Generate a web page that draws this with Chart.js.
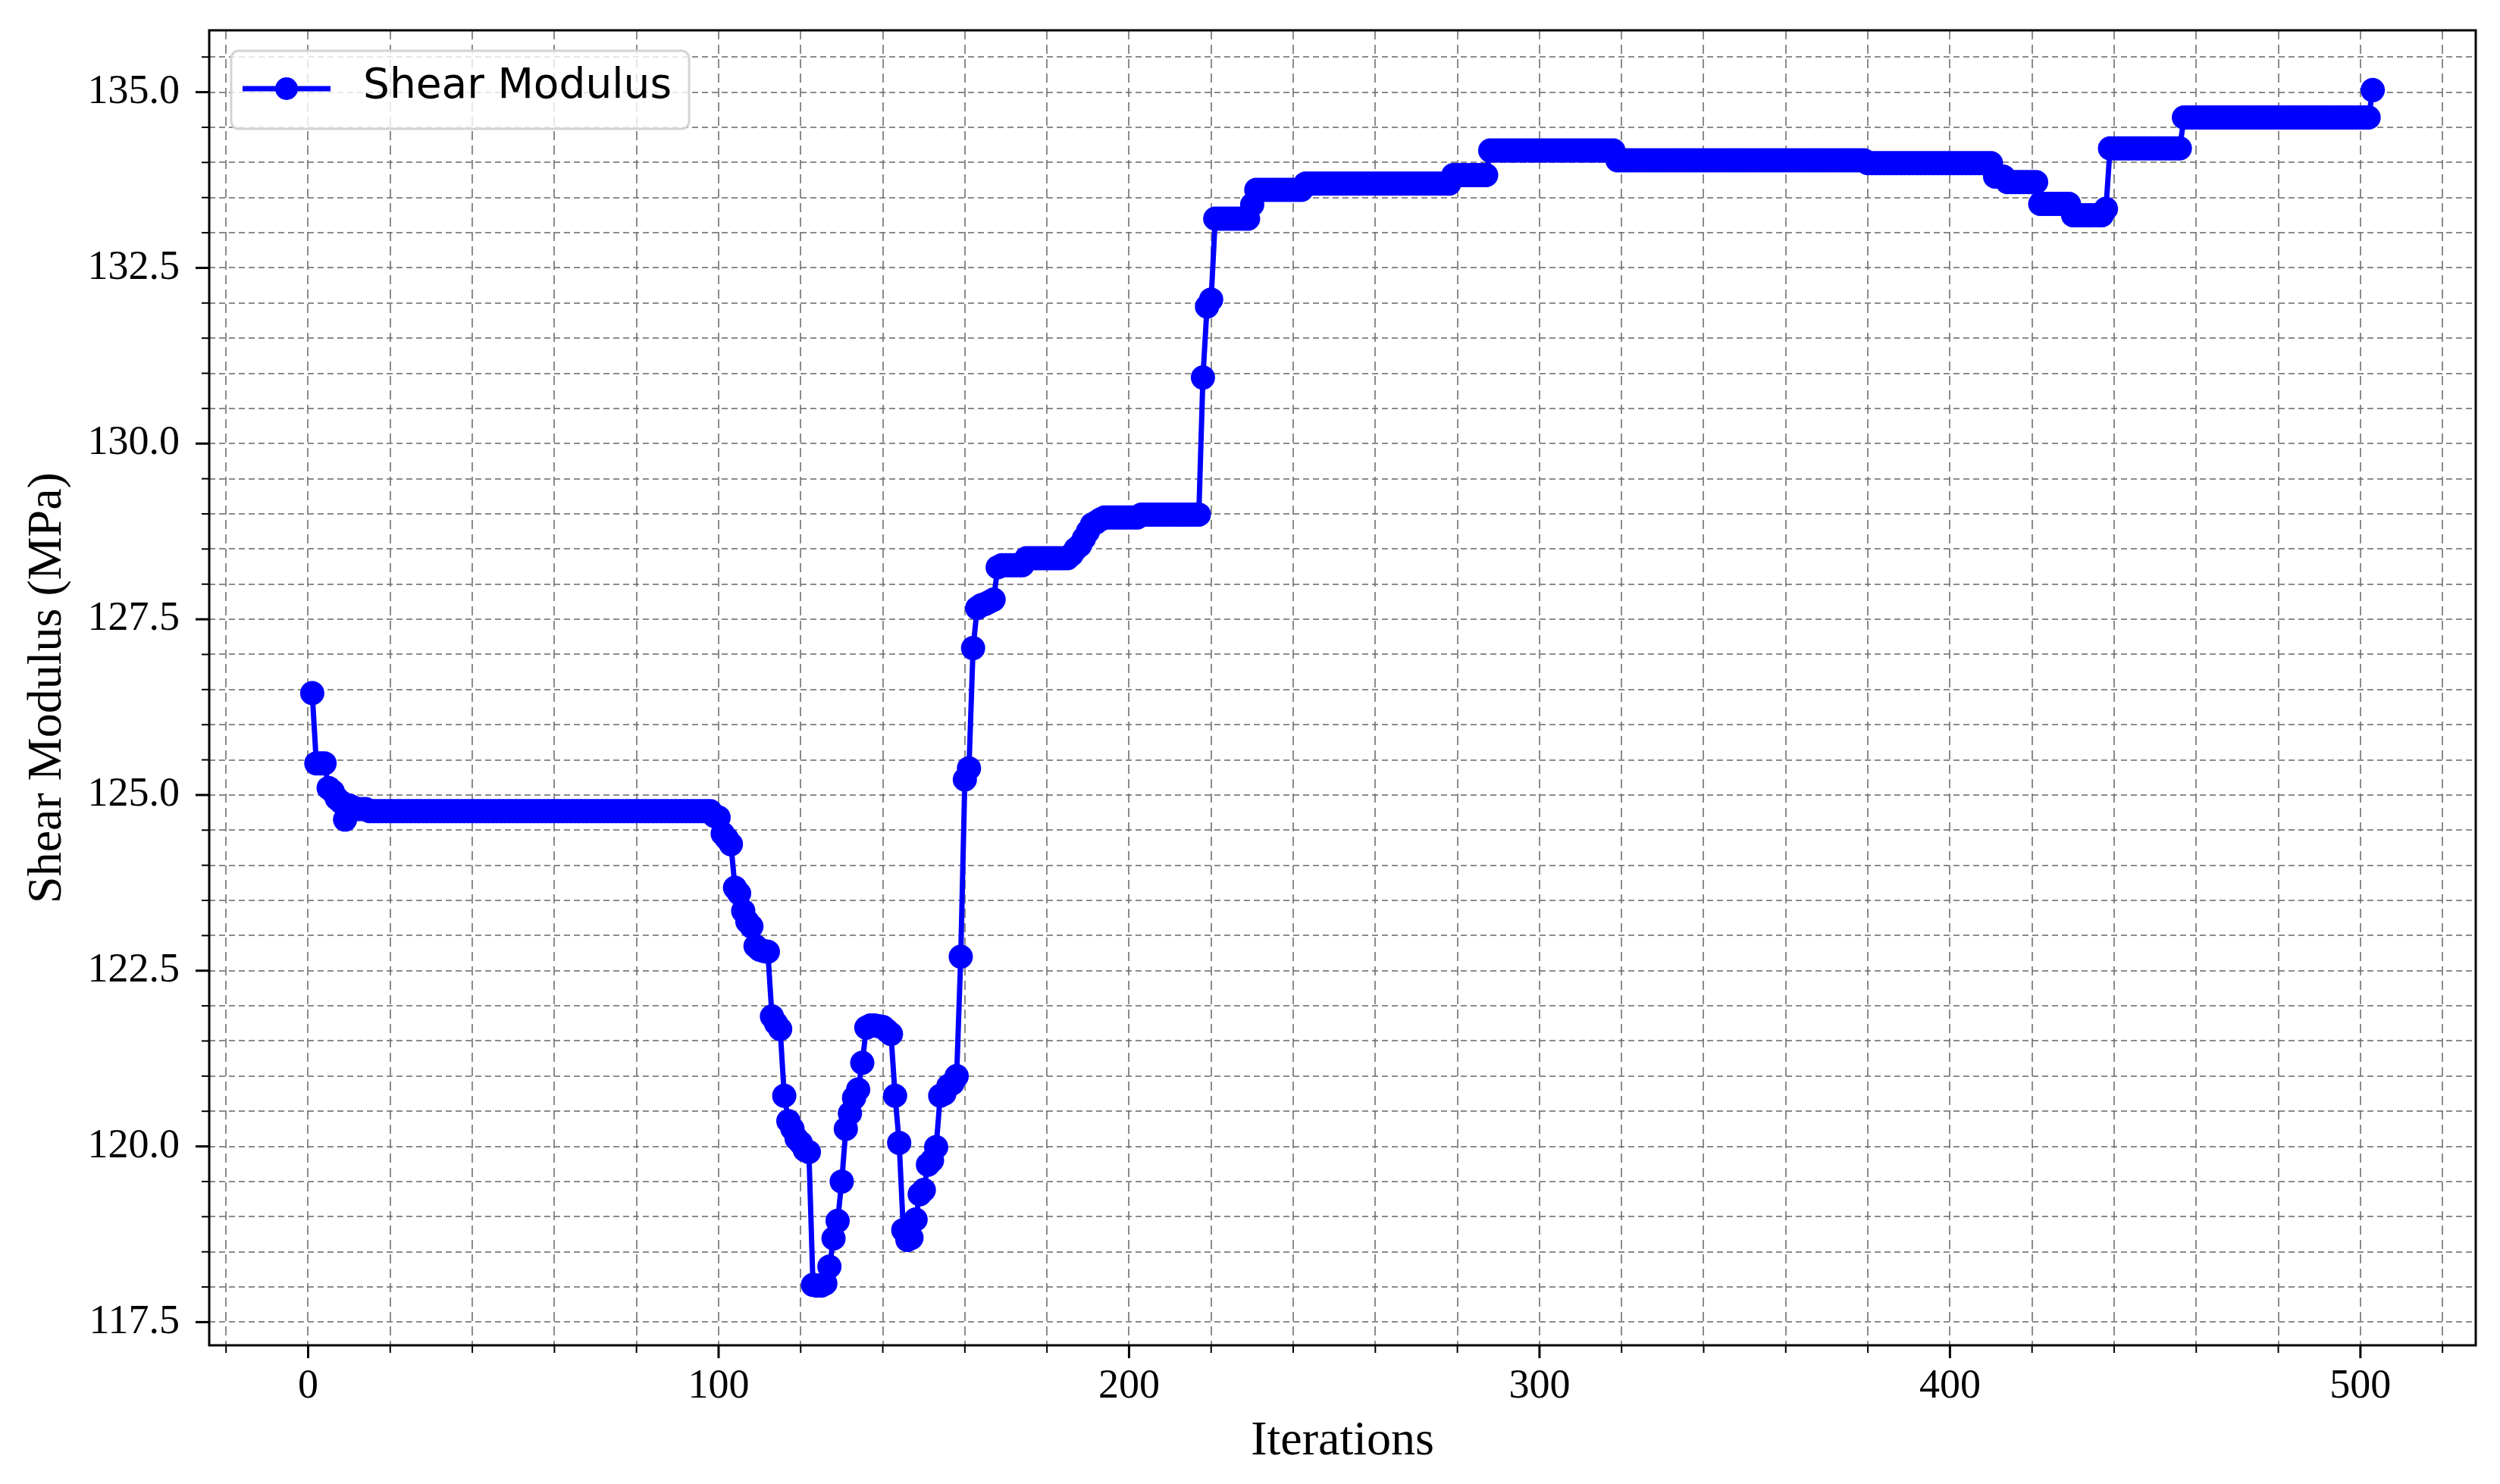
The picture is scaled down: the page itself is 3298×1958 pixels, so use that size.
<!DOCTYPE html>
<html>
<head>
<meta charset="utf-8">
<script src="https://cdn.jsdelivr.net/npm/chart.js@4.4.1/dist/chart.umd.min.js"></script>
<style>
  html, body { margin: 0; padding: 0; background: #fff; }
  #wrap { width: 3298px; height: 1958px; }
</style>
</head>
<body>
<div id="wrap"><canvas id="myChart" width="3298" height="1958"></canvas></div>
<script>
const ctx = document.getElementById('myChart');

const seriesLabel = 'Shear Modulus';
const xTitle = 'Iterations';
const yTitle = 'Shear Modulus (MPa)';

// shear modulus per iteration, 10 per row
const shearModulus = [
    126.45, 125.45, 125.45, 125.45, 125.1, 125.05, 124.95, 124.9, 124.65, 124.85,   // 1-10
    124.82, 124.8, 124.8, 124.8, 124.77, 124.77, 124.77, 124.77, 124.77, 124.77,    // 11-20
    124.77, 124.77, 124.77, 124.77, 124.77, 124.77, 124.77, 124.77, 124.77, 124.77, // 21-30
    124.77, 124.77, 124.77, 124.77, 124.77, 124.77, 124.77, 124.77, 124.77, 124.77, // 31-40
    124.77, 124.77, 124.77, 124.77, 124.77, 124.77, 124.77, 124.77, 124.77, 124.77, // 41-50
    124.77, 124.77, 124.77, 124.77, 124.77, 124.77, 124.77, 124.77, 124.77, 124.77, // 51-60
    124.77, 124.77, 124.77, 124.77, 124.77, 124.77, 124.77, 124.77, 124.77, 124.77, // 61-70
    124.77, 124.77, 124.77, 124.77, 124.77, 124.77, 124.77, 124.77, 124.77, 124.77, // 71-80
    124.77, 124.77, 124.77, 124.77, 124.77, 124.77, 124.77, 124.77, 124.77, 124.77, // 81-90
    124.77, 124.77, 124.77, 124.77, 124.77, 124.77, 124.77, 124.77, 124.7, 124.68,  // 91-100
    124.45, 124.38, 124.3, 123.68, 123.6, 123.35, 123.2, 123.13, 122.85, 122.8,     // 101-110
    122.78, 122.77, 121.85, 121.75, 121.67, 120.72, 120.36, 120.25, 120.11, 120.05, // 111-120
    119.95, 119.92, 118.03, 118.02, 118.02, 118.05, 118.29, 118.69, 118.94, 119.5,  // 121-130
    120.25, 120.47, 120.69, 120.81, 121.19, 121.69, 121.72, 121.72, 121.71, 121.7,  // 131-140
    121.65, 121.6, 120.72, 120.05, 118.81, 118.67, 118.7, 118.96, 119.32, 119.38,   // 141-150
    119.74, 119.8, 119.99, 120.72, 120.75, 120.86, 120.9, 121.0, 122.7, 125.22,     // 151-160
    125.38, 127.09, 127.66, 127.7, 127.72, 127.75, 127.78, 128.24, 128.27, 128.27,  // 161-170
    128.27, 128.27, 128.27, 128.27, 128.37, 128.37, 128.37, 128.37, 128.37, 128.37, // 171-180
    128.37, 128.37, 128.37, 128.37, 128.37, 128.42, 128.5, 128.55, 128.65, 128.75,  // 181-190
    128.85, 128.88, 128.92, 128.95, 128.95, 128.95, 128.95, 128.95, 128.95, 128.95, // 191-200
    128.95, 128.95, 128.99, 128.99, 128.99, 128.99, 128.99, 128.99, 128.99, 128.99, // 201-210
    128.99, 128.99, 128.99, 128.99, 128.99, 128.99, 128.99, 130.94, 131.95, 132.05, // 211-220
    133.2, 133.2, 133.2, 133.2, 133.2, 133.2, 133.2, 133.2, 133.2, 133.4,           // 221-230
    133.61, 133.61, 133.61, 133.61, 133.61, 133.61, 133.61, 133.61, 133.61, 133.61, // 231-240
    133.61, 133.61, 133.7, 133.7, 133.7, 133.7, 133.7, 133.7, 133.7, 133.7,         // 241-250
    133.7, 133.7, 133.7, 133.7, 133.7, 133.7, 133.7, 133.7, 133.7, 133.7,           // 251-260
    133.7, 133.7, 133.7, 133.7, 133.7, 133.7, 133.7, 133.7, 133.7, 133.7,           // 261-270
    133.7, 133.7, 133.7, 133.7, 133.7, 133.7, 133.7, 133.7, 133.82, 133.82,         // 271-280
    133.82, 133.82, 133.82, 133.82, 133.82, 133.82, 133.82, 134.17, 134.17, 134.17, // 281-290
    134.17, 134.17, 134.17, 134.17, 134.17, 134.17, 134.17, 134.17, 134.17, 134.17, // 291-300
    134.17, 134.17, 134.17, 134.17, 134.17, 134.17, 134.17, 134.17, 134.17, 134.17, // 301-310
    134.17, 134.17, 134.17, 134.17, 134.17, 134.17, 134.17, 134.17, 134.03, 134.03, // 311-320
    134.03, 134.03, 134.03, 134.03, 134.03, 134.03, 134.03, 134.03, 134.03, 134.03, // 321-330
    134.03, 134.03, 134.03, 134.03, 134.03, 134.03, 134.03, 134.03, 134.03, 134.03, // 331-340
    134.03, 134.03, 134.03, 134.03, 134.03, 134.03, 134.03, 134.03, 134.03, 134.03, // 341-350
    134.03, 134.03, 134.03, 134.03, 134.03, 134.03, 134.03, 134.03, 134.03, 134.03, // 351-360
    134.03, 134.03, 134.03, 134.03, 134.03, 134.03, 134.03, 134.03, 134.03, 134.03, // 361-370
    134.03, 134.03, 134.03, 134.03, 134.03, 134.03, 134.03, 134.03, 134.03, 133.99, // 371-380
    133.99, 133.99, 133.99, 133.99, 133.99, 133.99, 133.99, 133.99, 133.99, 133.99, // 381-390
    133.99, 133.99, 133.99, 133.99, 133.99, 133.99, 133.99, 133.99, 133.99, 133.99, // 391-400
    133.99, 133.99, 133.99, 133.99, 133.99, 133.99, 133.99, 133.99, 133.99, 133.99, // 401-410
    133.8, 133.8, 133.8, 133.72, 133.72, 133.72, 133.72, 133.72, 133.72, 133.72,    // 411-420
    133.72, 133.41, 133.41, 133.41, 133.41, 133.41, 133.41, 133.41, 133.41, 133.25, // 421-430
    133.25, 133.25, 133.25, 133.25, 133.25, 133.25, 133.25, 133.34, 134.2, 134.2,   // 431-440
    134.2, 134.2, 134.2, 134.2, 134.2, 134.2, 134.2, 134.2, 134.2, 134.2,           // 441-450
    134.2, 134.2, 134.2, 134.2, 134.2, 134.2, 134.64, 134.64, 134.64, 134.64,       // 451-460
    134.64, 134.64, 134.64, 134.64, 134.64, 134.64, 134.64, 134.64, 134.64, 134.64, // 461-470
    134.64, 134.64, 134.64, 134.64, 134.64, 134.64, 134.64, 134.64, 134.64, 134.64, // 471-480
    134.64, 134.64, 134.64, 134.64, 134.64, 134.64, 134.64, 134.64, 134.64, 134.64, // 481-490
    134.64, 134.64, 134.64, 134.64, 134.64, 134.64, 134.64, 134.64, 134.64, 134.64, // 491-500
    134.64, 134.64, 135.03                                                          // 501-503
];

// iterations start at 1
const iterations = shearModulus.map((_, i) => i + 1);

const xMajorTicks = [0, 100, 200, 300, 400, 500];
const yMajorTicks = [117.5, 120.0, 122.5, 125.0, 127.5, 130.0, 132.5, 135.0];
const xMinorStep = 20;
const yMinorStep = 0.5;

const xMin = -24.1, xMax = 528.1;
const yMin = 117.17, yMax = 135.88;

const BLUE = '#0000ff';
const GRID = 'rgba(110,110,110,0.8)';
const SERIF = "'Liberation Serif', 'Times New Roman', serif";

function stepTicks(from, to, step) {
    const out = [];
    for (let v = from; v <= to + 1e-9; v += step) out.push(Math.round(v * 100) / 100);
    return out;
}
const xGridTicks = stepTicks(-20, 520, xMinorStep);
const yGridTicks = stepTicks(117.5, 135.5, yMinorStep);

const isMajor = (v, majors) => majors.some(m => Math.abs(m - v) < 1e-6);

// frame + outward tick marks (major longer than minor) + legend box
const axesDecor = {
    id: 'axesDecor',
    afterDraw(chart) {
        const { ctx: c, chartArea: a, scales } = chart;
        c.save();
        c.strokeStyle = '#000';
        c.lineCap = 'butt';
        xGridTicks.forEach(v => {
            const px = scales.x.getPixelForValue(v);
            const major = isMajor(v, xMajorTicks);
            c.lineWidth = major ? 3 : 2;
            c.beginPath();
            c.moveTo(px, a.bottom);
            c.lineTo(px, a.bottom + (major ? 17 : 10));
            c.stroke();
        });
        yGridTicks.forEach(v => {
            const py = scales.y.getPixelForValue(v);
            const major = isMajor(v, yMajorTicks);
            c.lineWidth = major ? 3 : 2;
            c.beginPath();
            c.moveTo(a.left, py);
            c.lineTo(a.left - (major ? 18 : 10), py);
            c.stroke();
        });
        c.lineWidth = 3;
        c.strokeRect(a.left, a.top, a.right - a.left, a.bottom - a.top);

        // legend, upper left
        const lx = a.left + 29, ly = a.top + 27, lw = 604, lh = 103, r = 10;
        c.beginPath();
        c.moveTo(lx + r, ly);
        c.arcTo(lx + lw, ly, lx + lw, ly + lh, r);
        c.arcTo(lx + lw, ly + lh, lx, ly + lh, r);
        c.arcTo(lx, ly + lh, lx, ly, r);
        c.arcTo(lx, ly, lx + lw, ly, r);
        c.closePath();
        c.fillStyle = 'rgba(255,255,255,0.8)';
        c.fill();
        c.strokeStyle = '#d4d4d4';
        c.lineWidth = 3;
        c.stroke();
        const cy = ly + 50;
        c.strokeStyle = BLUE;
        c.lineWidth = 7;
        c.beginPath();
        c.moveTo(lx + 15, cy);
        c.lineTo(lx + 131, cy);
        c.stroke();
        c.fillStyle = BLUE;
        c.beginPath();
        c.arc(lx + 73, cy, 15, 0, Math.PI * 2);
        c.fill();
        c.fillStyle = '#000';
        c.font = "55px 'DejaVu Sans', sans-serif";
        c.textBaseline = 'middle';
        c.textAlign = 'left';
        c.fillText(chart.data.datasets[0].label, lx + 174, cy - 2);
        c.restore();
    }
};

new Chart(ctx, {
    type: 'line',
    data: {
        datasets: [{
            label: seriesLabel,
            data: iterations.map((it, i) => ({ x: it, y: shearModulus[i] })),
            borderColor: BLUE,
            backgroundColor: BLUE,
            borderWidth: 7,
            pointRadius: 16,
            pointBorderWidth: 0,
            pointBackgroundColor: BLUE,
            tension: 0,
            fill: false
        }]
    },
    options: {
        responsive: false,
        animation: false,
        devicePixelRatio: 1,
        layout: { padding: { top: 40, right: 32, left: 0, bottom: 0 } },
        plugins: { legend: { display: false }, tooltip: { enabled: false } },
        scales: {
            x: {
                type: 'linear',
                min: xMin,
                max: xMax,
                afterBuildTicks: axis => { axis.ticks = xGridTicks.map(v => ({ value: v })); },
                afterFit: axis => { axis.height = 183; axis.paddingLeft = 0; axis.paddingRight = 0; },
                grid: { color: GRID, lineWidth: 2, drawTicks: false },
                border: { display: false, dash: [12, 7] },
                ticks: {
                    autoSkip: false,
                    maxRotation: 0,
                    padding: 22,
                    color: '#000',
                    font: { family: SERIF, size: 54 },
                    callback: v => isMajor(v, xMajorTicks) ? String(v) : ''
                },
                title: {
                    display: true,
                    text: xTitle,
                    color: '#000',
                    font: { family: SERIF, size: 64 },
                    padding: { top: 0, bottom: 17 }
                }
            },
            y: {
                type: 'linear',
                min: yMin,
                max: yMax,
                afterBuildTicks: axis => { axis.ticks = yGridTicks.map(v => ({ value: v })); },
                afterFit: axis => { axis.width = 276; axis.paddingTop = 0; axis.paddingBottom = 0; },
                grid: { color: GRID, lineWidth: 2, drawTicks: false },
                border: { display: false, dash: [8, 5] },
                ticks: {
                    autoSkip: false,
                    padding: 39,
                    color: '#000',
                    font: { family: SERIF, size: 54 },
                    callback: v => isMajor(v, yMajorTicks) ? v.toFixed(1) : ''
                },
                title: {
                    display: true,
                    text: yTitle,
                    color: '#000',
                    font: { family: SERIF, size: 64 },
                    padding: { top: 25, bottom: 0 }
                }
            }
        }
    },
    plugins: [axesDecor]
});
</script>
</body>
</html>
